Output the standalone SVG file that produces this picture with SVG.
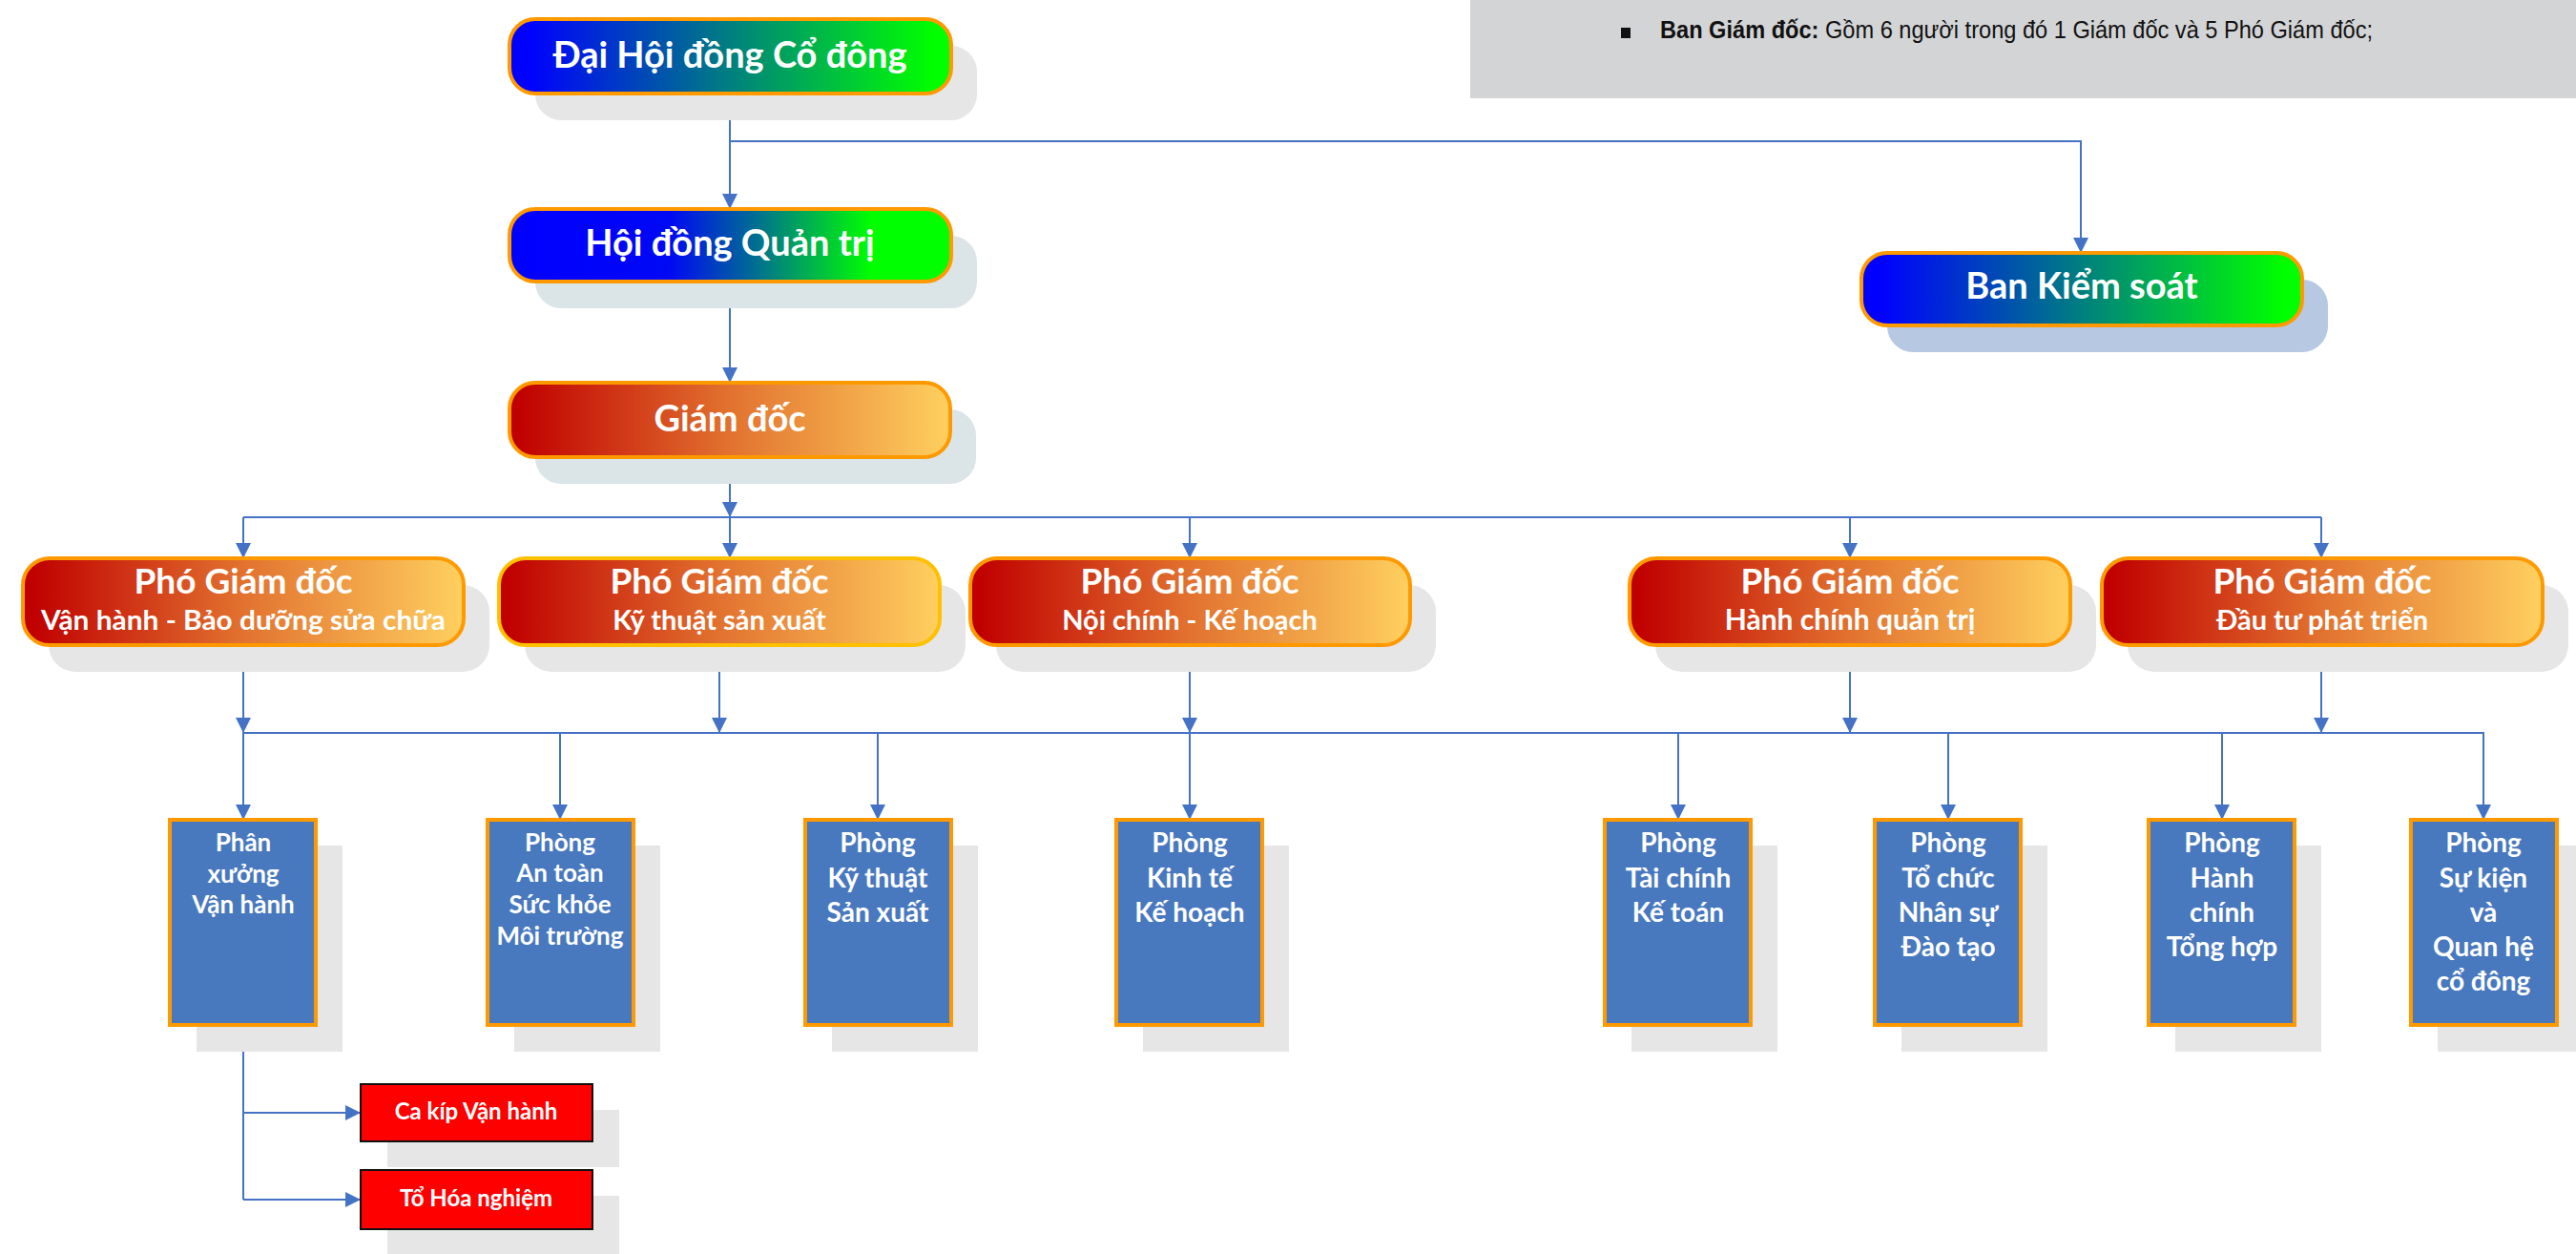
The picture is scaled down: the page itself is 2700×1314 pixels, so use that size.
<svg xmlns="http://www.w3.org/2000/svg" width="2700" height="1314" viewBox="0 0 2700 1314">
<style>
.t{font-family:"Lato","Open Sans",sans-serif;font-weight:bold;fill:#fff;text-anchor:middle}
.sh{fill:#e6e6e6}
.shb{fill:#dbe5e8}
.bord{stroke:#ff9900;stroke-width:4}
.dept{fill:#4878be;stroke:#ff9900;stroke-width:4}
.red{fill:#ff0000;stroke:#111;stroke-width:2}
.c{stroke:#4472c4;stroke-width:2;fill:none}
.ca{stroke:#4472c4;stroke-width:2;fill:none;marker-end:url(#arr)}
</style>
<defs>
<marker id="arr" markerUnits="userSpaceOnUse" markerWidth="16" markerHeight="16" refX="16" refY="8" orient="auto">
<path d="M0,0 L16,8 L0,16 z" fill="#4472c4"/>
</marker>
<linearGradient id="bg1" x1="0" y1="0" x2="1" y2="0">
<stop offset="0.04" stop-color="#0000ff"/>
<stop offset="0.96" stop-color="#00ff00"/>
</linearGradient>
<linearGradient id="bg2" x1="0" y1="0" x2="1" y2="0">
<stop offset="0.05" stop-color="#0000ff"/>
<stop offset="0.36" stop-color="#0008f4"/>
<stop offset="0.56" stop-color="#007090"/>
<stop offset="0.82" stop-color="#00ff00"/>
</linearGradient>
<linearGradient id="og" x1="0" y1="0" x2="1" y2="0">
<stop offset="0.02" stop-color="#c00000"/>
<stop offset="0.5" stop-color="#e2722f"/>
<stop offset="1" stop-color="#ffd05f"/>
</linearGradient>
</defs>
<rect width="2700" height="1314" fill="#fff"/>

<g id="note">
<rect x="1541" y="0" width="1159" height="103" fill="#d3d4d6"/>
<rect x="1699" y="29" width="10" height="11" fill="#111"/>
<text x="1740" y="40" font-family="Liberation Sans, sans-serif" font-size="26" fill="#111" textLength="747" lengthAdjust="spacingAndGlyphs"><tspan font-weight="bold">Ban Giám đốc:</tspan> Gồm 6 người trong đó 1 Giám đốc và 5 Phó Giám đốc;</text>
</g>

<g id="connectors">
<line class="ca" x1="765" y1="98" x2="765" y2="219"/>
<polyline class="ca" points="765,148 2181,148 2181,265"/>
<line class="ca" x1="765" y1="295" x2="765" y2="401"/>
<line class="ca" x1="765" y1="479" x2="765" y2="542"/>
<line class="c" x1="255" y1="542" x2="2433" y2="542"/>
<line class="ca" x1="255" y1="542" x2="255" y2="585"/>
<line class="ca" x1="765" y1="542" x2="765" y2="585"/>
<line class="ca" x1="1247" y1="542" x2="1247" y2="585"/>
<line class="ca" x1="1939" y1="542" x2="1939" y2="585"/>
<line class="ca" x1="2433" y1="542" x2="2433" y2="585"/>
<line class="ca" x1="255" y1="676" x2="255" y2="768"/>
<line class="ca" x1="754" y1="676" x2="754" y2="768"/>
<line class="ca" x1="1247" y1="676" x2="1247" y2="768"/>
<line class="ca" x1="1939" y1="676" x2="1939" y2="768"/>
<line class="ca" x1="2433" y1="676" x2="2433" y2="768"/>
<line class="c" x1="255" y1="768" x2="2604" y2="768"/>
<line class="ca" x1="255" y1="768" x2="255" y2="859"/>
<line class="ca" x1="587" y1="768" x2="587" y2="859"/>
<line class="ca" x1="920" y1="768" x2="920" y2="859"/>
<line class="ca" x1="1247" y1="768" x2="1247" y2="859"/>
<line class="ca" x1="1759" y1="768" x2="1759" y2="859"/>
<line class="ca" x1="2042" y1="768" x2="2042" y2="859"/>
<line class="ca" x1="2329" y1="768" x2="2329" y2="859"/>
<line class="ca" x1="2603" y1="768" x2="2603" y2="859"/>
<line class="c" x1="255" y1="1074" x2="255" y2="1257"/>
<line class="ca" x1="255" y1="1166" x2="378" y2="1166"/>
<line class="ca" x1="255" y1="1257" x2="378" y2="1257"/>
</g>

<g id="dhdcd">
<rect class="sh" x="561" y="48" width="463" height="78" rx="27"/>
<rect class="bord" x="534" y="20" width="463" height="78" rx="27" fill="url(#bg1)"/>
<text class="t" x="765" y="71" font-size="38">Đại Hội đồng Cổ đông</text>
</g>
<g id="hdqt">
<rect class="shb" x="561" y="247" width="463" height="76" rx="27"/>
<rect class="bord" x="534" y="219" width="463" height="76" rx="27" fill="url(#bg2)"/>
<text class="t" x="765" y="268" font-size="38">Hội đồng Quản trị</text>
</g>
<g id="bks">
<rect x="1978" y="293" width="462" height="76" rx="27" fill="#b7c8e3"/>
<rect class="bord" x="1951" y="265" width="462" height="76" rx="27" fill="url(#bg1)"/>
<text class="t" x="2182" y="313" font-size="38">Ban Kiểm soát</text>
</g>
<g id="gd">
<rect class="shb" x="561" y="429" width="462" height="78" rx="27"/>
<rect class="bord" x="534" y="401" width="462" height="78" rx="27" fill="url(#og)"/>
<text class="t" x="765" y="452" font-size="38">Giám đốc</text>
</g>

<g id="pgd1">
<rect class="sh" x="51" y="613" width="462" height="91" rx="28"/>
<rect class="bord" x="24" y="585" width="462" height="91" rx="28" fill="url(#og)"/>
<text class="t" x="255" y="622" font-size="37">Phó Giám đốc</text>
<text class="t" x="255" y="660" font-size="29" textLength="424" lengthAdjust="spacingAndGlyphs">Vận hành - Bảo dưỡng sửa chữa</text>
</g>
<g id="pgd2">
<rect class="sh" x="550" y="613" width="462" height="91" rx="28"/>
<rect x="523" y="585" width="462" height="91" rx="28" fill="url(#og)" stroke="#ffc000" stroke-width="4"/>
<text class="t" x="754" y="622" font-size="37">Phó Giám đốc</text>
<text class="t" x="754" y="660" font-size="29">Kỹ thuật sản xuất</text>
</g>
<g id="pgd3">
<rect class="sh" x="1044" y="613" width="461" height="91" rx="28"/>
<rect class="bord" x="1017" y="585" width="461" height="91" rx="28" fill="url(#og)"/>
<text class="t" x="1247" y="622" font-size="37">Phó Giám đốc</text>
<text class="t" x="1247" y="660" font-size="29">Nội chính - Kế hoạch</text>
</g>
<g id="pgd4">
<rect class="sh" x="1735" y="613" width="462" height="91" rx="28"/>
<rect class="bord" x="1708" y="585" width="462" height="91" rx="28" fill="url(#og)"/>
<text class="t" x="1939" y="622" font-size="37">Phó Giám đốc</text>
<text class="t" x="1939" y="660" font-size="30">Hành chính quản trị</text>
</g>
<g id="pgd5">
<rect class="sh" x="2230" y="613" width="462" height="91" rx="28"/>
<rect class="bord" x="2203" y="585" width="462" height="91" rx="28" fill="url(#og)"/>
<text class="t" x="2434" y="622" font-size="37">Phó Giám đốc</text>
<text class="t" x="2434" y="660" font-size="29">Đầu tư phát triển</text>
</g>

<g id="d1">
<rect class="sh" x="206" y="886" width="153" height="216"/>
<rect class="dept" x="178" y="859" width="153" height="215"/>
<text class="t" font-size="26"><tspan x="255" y="892">Phân</tspan><tspan x="255" y="925">xưởng</tspan><tspan x="255" y="957">Vận hành</tspan></text>
</g>
<g id="d2">
<rect class="sh" x="539" y="886" width="153" height="216"/>
<rect class="dept" x="511" y="859" width="153" height="215"/>
<text class="t" font-size="26"><tspan x="587" y="892">Phòng</tspan><tspan x="587" y="924">An toàn</tspan><tspan x="587" y="957">Sức khỏe</tspan><tspan x="587" y="990">Môi trường</tspan></text>
</g>
<g id="d3">
<rect class="sh" x="872" y="886" width="153" height="216"/>
<rect class="dept" x="844" y="859" width="153" height="215"/>
<text class="t" font-size="28"><tspan x="920" y="893">Phòng</tspan><tspan x="920" y="930">Kỹ thuật</tspan><tspan x="920" y="966">Sản xuất</tspan></text>
</g>
<g id="d4">
<rect class="sh" x="1198" y="886" width="153" height="216"/>
<rect class="dept" x="1170" y="859" width="153" height="215"/>
<text class="t" font-size="28"><tspan x="1247" y="893">Phòng</tspan><tspan x="1247" y="930">Kinh tế</tspan><tspan x="1247" y="966">Kế hoạch</tspan></text>
</g>
<g id="d5">
<rect class="sh" x="1710" y="886" width="153" height="216"/>
<rect class="dept" x="1682" y="859" width="153" height="215"/>
<text class="t" font-size="28"><tspan x="1759" y="893">Phòng</tspan><tspan x="1759" y="930">Tài chính</tspan><tspan x="1759" y="966">Kế toán</tspan></text>
</g>
<g id="d6">
<rect class="sh" x="1993" y="886" width="153" height="216"/>
<rect class="dept" x="1965" y="859" width="153" height="215"/>
<text class="t" font-size="28"><tspan x="2042" y="893">Phòng</tspan><tspan x="2042" y="930">Tổ chức</tspan><tspan x="2042" y="966">Nhân sự</tspan><tspan x="2042" y="1002">Đào tạo</tspan></text>
</g>
<g id="d7">
<rect class="sh" x="2280" y="886" width="153" height="216"/>
<rect class="dept" x="2252" y="859" width="153" height="215"/>
<text class="t" font-size="28"><tspan x="2329" y="893">Phòng</tspan><tspan x="2329" y="930">Hành</tspan><tspan x="2329" y="966">chính</tspan><tspan x="2329" y="1002">Tổng hợp</tspan></text>
</g>
<g id="d8">
<rect class="sh" x="2555" y="886" width="145" height="216"/>
<rect class="dept" x="2527" y="859" width="153" height="215"/>
<text class="t" font-size="28"><tspan x="2603" y="893">Phòng</tspan><tspan x="2603" y="930">Sự kiện</tspan><tspan x="2603" y="966">và</tspan><tspan x="2603" y="1002">Quan hệ</tspan><tspan x="2603" y="1038">cổ đông</tspan></text>
</g>

<g id="r1">
<rect class="sh" x="406" y="1163" width="243" height="60"/>
<rect class="red" x="378" y="1136" width="243" height="60"/>
<text class="t" x="499" y="1173" font-size="24">Ca kíp Vận hành</text>
</g>
<g id="r2">
<rect class="sh" x="406" y="1253" width="243" height="61"/>
<rect class="red" x="378" y="1226" width="243" height="62"/>
<text class="t" x="499" y="1264" font-size="24">Tổ Hóa nghiệm</text>
</g>
</svg>
